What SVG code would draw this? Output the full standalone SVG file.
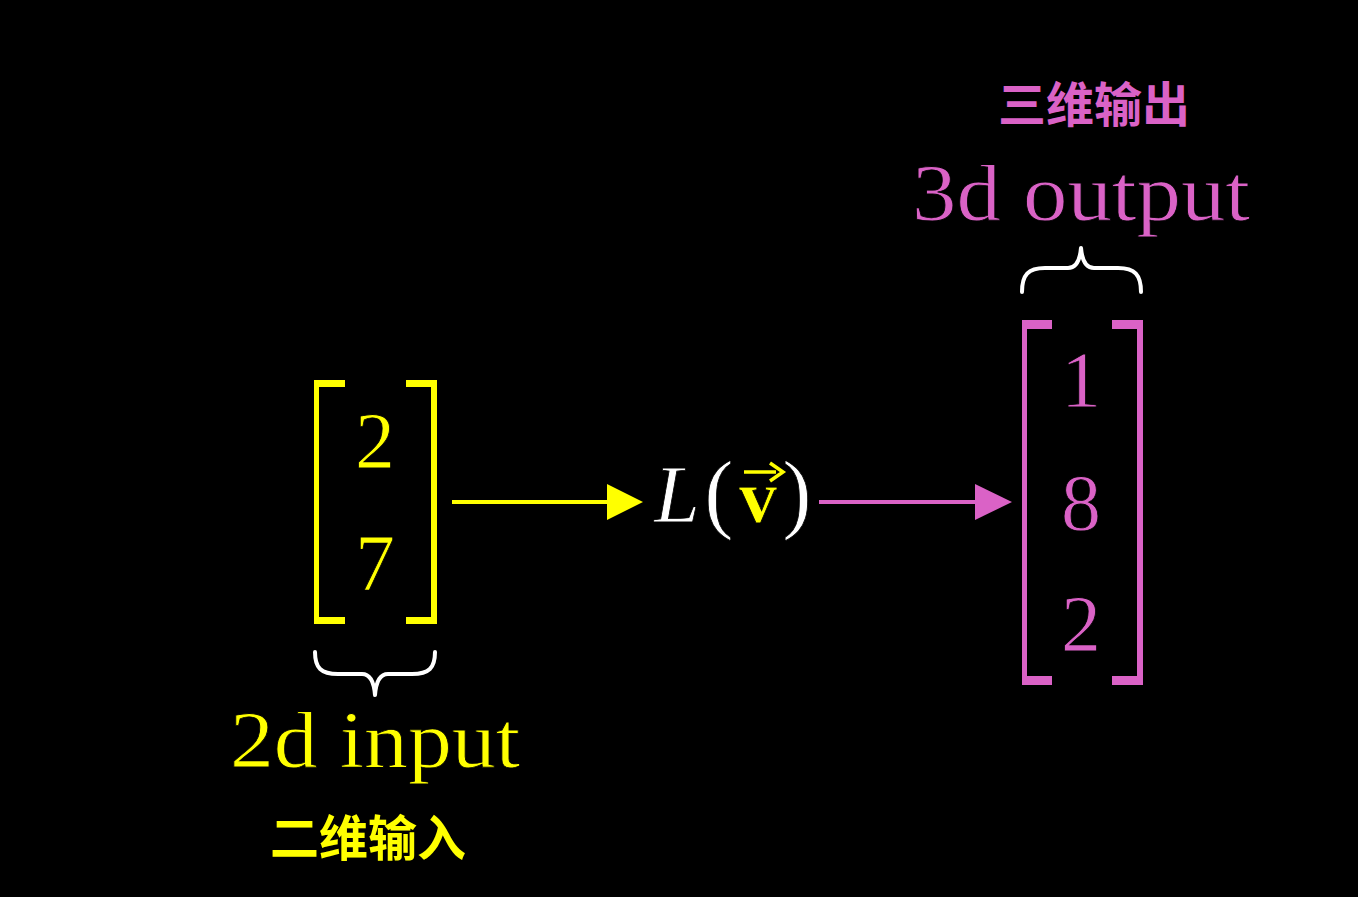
<svg xmlns="http://www.w3.org/2000/svg" width="1358" height="897" viewBox="0 0 1358 897">
<style>
.serif{font-family:"Liberation Serif","DejaVu Serif",serif;stroke:#000000;stroke-width:0.8;paint-order:normal;}
.cjk{font-family:"Noto Sans CJK SC","Noto Sans",sans-serif;font-weight:bold;}
.y{fill:#FFFF00;}
.p{fill:#DA62C6;}
.w{fill:#FFFFFF;}
.brace{fill:none;stroke:#FFFFFF;stroke-width:4;stroke-linecap:round;stroke-linejoin:round;}
</style>
<rect x="0" y="0" width="1358" height="897" fill="#000000"/>
<g id="input-vector">
<path class="y" d="M314,380 H345 V387 H319 V617 H345 V624 H314 Z"/>
<path class="y" d="M437,380 H406 V387 H431 V617 H406 V624 H437 Z"/>
<text class="serif y" x="375" y="468" font-size="80" text-anchor="middle">2</text>
<text class="serif y" x="375" y="590" font-size="80" text-anchor="middle">7</text>
</g>
<g id="input-label">
<path class="brace" d="M315,652 C315,668 321,674 338,674 L362,674 C370,674 374,682 375,695 C376,682 380,674 388,674 L412,674 C429,674 435,668 435,652"/>
<text class="serif y" x="230" y="767" font-size="80" textLength="290" lengthAdjust="spacingAndGlyphs">2d input</text>
<text class="cjk y" x="368" y="856" font-size="49" text-anchor="middle">二维输入</text>
</g>
<g id="transform">
<text class="serif w" x="677" y="522" font-size="82" font-style="italic" text-anchor="middle">L</text>
<text class="serif w" x="719" y="522" font-size="88" text-anchor="middle">(</text>
<text class="serif y" x="758" y="522" font-size="76" font-weight="bold" text-anchor="middle">v</text>
<text class="serif w" x="797" y="522" font-size="88" text-anchor="middle">)</text>
<line x1="744" y1="472" x2="776" y2="472" stroke="#FFFF00" stroke-width="3.5"/>
<path d="M770,463 L783,472 L770,481" fill="none" stroke="#FFFF00" stroke-width="3.5" stroke-linejoin="miter"/>
</g>
<g id="output-vector">
<path class="p" d="M1022,320 H1052 V329 H1027 V676 H1052 V685 H1022 Z"/>
<path class="p" d="M1143,320 H1112 V329 H1137 V676 H1112 V685 H1143 Z"/>
<text class="serif p" x="1081" y="407" font-size="80" text-anchor="middle">1</text>
<text class="serif p" x="1081" y="530" font-size="80" text-anchor="middle">8</text>
<text class="serif p" x="1081" y="651" font-size="80" text-anchor="middle">2</text>
</g>
<g id="output-label">
<path class="brace" d="M1022,292 C1022,275 1028,268 1045,268 L1068,268 C1076,268 1080,260 1081,248 C1082,260 1086,268 1094,268 L1118,268 C1135,268 1141,275 1141,292"/>
<text class="serif p" x="912" y="220" font-size="80" textLength="338" lengthAdjust="spacingAndGlyphs">3d output</text>
<text class="cjk p" x="1094" y="122" font-size="48" text-anchor="middle">三维输出</text>
</g>
<g id="connectors">
<line x1="452" y1="502" x2="610" y2="502" stroke="#FFFF00" stroke-width="4"/>
<polygon points="607,484 643,502 607,520" fill="#FFFF00"/>
<line x1="819" y1="502" x2="978" y2="502" stroke="#DA62C6" stroke-width="4"/>
<polygon points="975,484 1012,502 975,520" fill="#DA62C6"/>
</g>
</svg>
